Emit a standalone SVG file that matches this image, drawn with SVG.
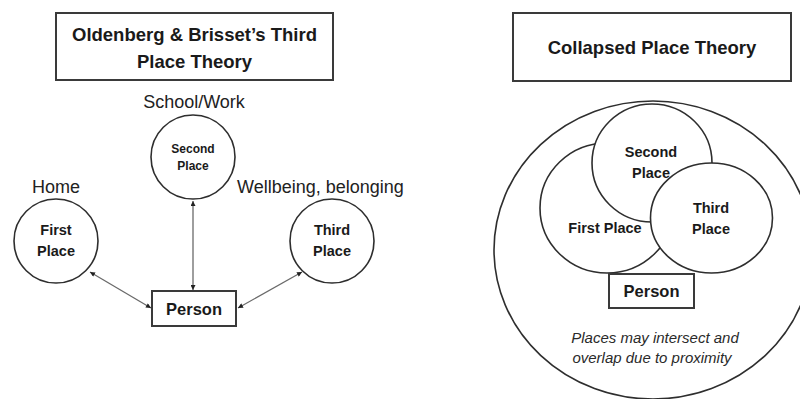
<svg xmlns="http://www.w3.org/2000/svg" width="800" height="399" viewBox="0 0 800 399">
  <style>
    .box { fill: #ffffff; stroke: #3a3a3a; stroke-width: 2; }
    .circ { fill: #ffffff; stroke: #2e2e2e; stroke-width: 1.6; }
    .title { font-family: "Liberation Sans", Arial, sans-serif; font-weight: bold; font-size: 18.5px; fill: #1a1a1a; text-anchor: middle; }
    .lbl { font-family: "Liberation Sans", Arial, sans-serif; font-size: 18px; fill: #222222; }
    .node { font-family: "Liberation Sans", Arial, sans-serif; font-weight: bold; font-size: 14.5px; fill: #1a1a1a; text-anchor: middle; }
    .small { font-size: 12px; }
    .person { font-family: "Liberation Sans", Arial, sans-serif; font-weight: bold; font-size: 16.5px; fill: #1a1a1a; text-anchor: middle; }
    .note { font-family: "Liberation Sans", Arial, sans-serif; font-style: italic; font-size: 15px; fill: #2a2a2a; text-anchor: middle; }
    .conn { stroke: #6a6a6a; stroke-width: 1.3; fill: none; marker-start: url(#arr); marker-end: url(#arr); }
  </style>
  <defs>
    <marker id="arr" viewBox="0 0 10 10" refX="10" refY="5" markerWidth="6" markerHeight="5" markerUnits="userSpaceOnUse" orient="auto-start-reverse">
      <path d="M0,0 L10,5 L0,10 Z" fill="#222222"/>
    </marker>
  </defs>
  <rect width="800" height="399" fill="#ffffff"/>

  <!-- Left diagram -->
  <g id="title-left">
    <rect class="box" x="56" y="13" width="277" height="67"/>
    <text class="title" x="194.5" y="41">Oldenberg &amp; Brisset’s Third</text>
    <text class="title" x="194.5" y="68">Place Theory</text>
  </g>

  <g id="connectors">
    <line class="conn" x1="193" y1="201" x2="193" y2="290"/>
    <line class="conn" x1="90" y1="272" x2="151" y2="308"/>
    <line class="conn" x1="302" y1="272" x2="238" y2="308"/>
  </g>

  <g id="second-place">
    <text class="lbl" x="194" y="108" text-anchor="middle">School/Work</text>
    <circle class="circ" cx="193" cy="157" r="42"/>
    <text class="node small" x="193" y="153">Second</text>
    <text class="node small" x="193" y="170">Place</text>
  </g>

  <g id="first-place">
    <text class="lbl" x="32" y="193">Home</text>
    <circle class="circ" cx="56" cy="241" r="42"/>
    <text class="node" x="56" y="235">First</text>
    <text class="node" x="56" y="256">Place</text>
  </g>

  <g id="third-place">
    <text class="lbl" x="237" y="193">Wellbeing, belonging</text>
    <circle class="circ" cx="332" cy="241" r="42"/>
    <text class="node" x="332" y="235">Third</text>
    <text class="node" x="332" y="256">Place</text>
  </g>

  <g id="person-left">
    <rect class="box" x="152" y="291" width="84" height="35"/>
    <text class="person" x="194" y="315">Person</text>
  </g>

  <!-- Right diagram -->
  <g id="title-right">
    <rect class="box" x="513" y="13" width="278" height="68"/>
    <text class="title" x="652" y="54">Collapsed Place Theory</text>
  </g>

  <g id="collapsed-area">
    <ellipse class="circ" cx="653" cy="250" rx="159" ry="149"/>
  </g>

  <g id="first-place-c">
    <ellipse class="circ" cx="607" cy="208" rx="67" ry="65"/>
  </g>
  <g id="second-place-c">
    <ellipse class="circ" cx="652" cy="163" rx="60" ry="59"/>
  </g>
  <g id="third-place-c">
    <ellipse class="circ" cx="711.5" cy="218" rx="61" ry="55"/>
  </g>

  <g id="labels-c">
    <text class="node" x="651" y="157">Second</text>
    <text class="node" x="651" y="178">Place</text>
    <text class="node" x="605" y="233">First Place</text>
    <text class="node" x="711" y="213">Third</text>
    <text class="node" x="711" y="234">Place</text>
  </g>

  <g id="person-right">
    <rect class="box" x="609" y="274" width="85" height="34"/>
    <text class="person" x="651.5" y="297">Person</text>
  </g>

  <g id="note">
    <text class="note" x="655" y="343">Places may intersect and</text>
    <text class="note" x="652" y="363">overlap due to proximity</text>
  </g>
</svg>
